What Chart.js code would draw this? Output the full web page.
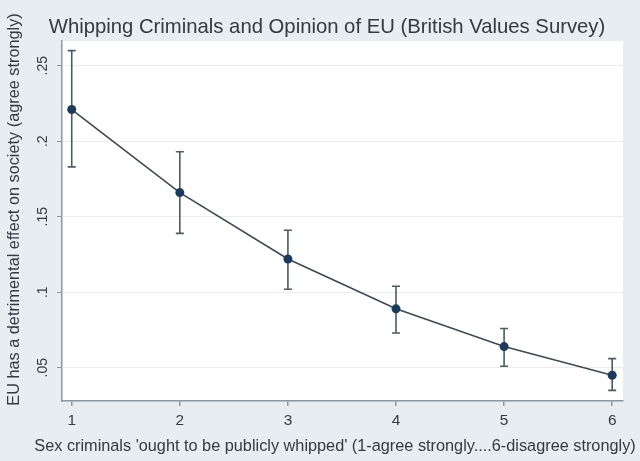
<!DOCTYPE html>
<html>
<head>
<meta charset="utf-8">
<script src="https://cdn.jsdelivr.net/npm/chart.js@4.4.0/dist/chart.umd.min.js"></script>
<style>
  html, body { margin: 0; padding: 0; background: #e7edf1; }
  #wrap { width: 640px; height: 461px; }
</style>
</head>
<body>
<div id="wrap"><canvas id="c" width="640" height="461"></canvas></div>
<script>
// ---- data ----
const categories = [1, 2, 3, 4, 5, 6];
const meanValues = [0.221, 0.166, 0.122, 0.089, 0.064, 0.045];
const upperValues = [0.260, 0.193, 0.141, 0.104, 0.076, 0.056];
const lowerValues = [0.183, 0.139, 0.102, 0.073, 0.051, 0.035];
const yTickValues = [0.05, 0.10, 0.15, 0.20, 0.25];
const yTickLabels = ['.05', '.1', '.15', '.2', '.25'];
const xTickValues = [1, 2, 3, 4, 5, 6];

const titleText = 'Whipping Criminals and Opinion of EU (British Values Survey)';
const xTitleText = "Sex criminals 'ought to be publicly whipped' (1-agree strongly....6-disagree strongly)";
const yTitleText = 'EU has a detrimental effect on society (agree strongly)';

const FONT = '"Liberation Sans", Arial, Helvetica, sans-serif';
const TEXT = '#333a40';
const AXIS = '#8c969d';

const decorPlugin = {
  id: 'decor',
  beforeDraw(chart) {
    const ctx = chart.ctx, a = chart.chartArea;
    ctx.save();
    ctx.fillStyle = '#e7edf1';
    ctx.fillRect(0, 0, chart.width, chart.height);
    ctx.fillStyle = '#ffffff';
    ctx.fillRect(a.left, a.top, a.right - a.left, a.bottom - a.top);
    ctx.restore();
  },
  beforeDatasetsDraw(chart) {
    // error bars
    const ctx = chart.ctx, xs = chart.scales.x, ys = chart.scales.y;
    ctx.save();
    ctx.strokeStyle = '#4e5a64';
    ctx.lineWidth = 1.6;
    categories.forEach((c, i) => {
      const x = xs.getPixelForValue(c);
      const yt = ys.getPixelForValue(upperValues[i]);
      const yb = ys.getPixelForValue(lowerValues[i]);
      ctx.beginPath();
      ctx.moveTo(x, yt); ctx.lineTo(x, yb);
      ctx.moveTo(x - 4, yt); ctx.lineTo(x + 4, yt);
      ctx.moveTo(x - 4, yb); ctx.lineTo(x + 4, yb);
      ctx.stroke();
    });
    ctx.restore();
  },
  afterDraw(chart) {
    const ctx = chart.ctx, ys = chart.scales.y;
    ctx.save();
    ctx.fillStyle = TEXT;
    ctx.textAlign = 'center';
    ctx.textBaseline = 'middle';
    // title
    ctx.font = '20.3px ' + FONT;
    ctx.fillText(titleText, 327, 27);
    // x title
    ctx.font = '16.3px ' + FONT;
    ctx.fillText(xTitleText, 335, 447);
    // y title
    ctx.save();
    ctx.translate(15, 209.5);
    ctx.rotate(-Math.PI / 2);
    ctx.fillText(yTitleText, 0, 0);
    ctx.restore();
    // y tick labels (rotated)
    ctx.font = '14px ' + FONT;
    yTickValues.forEach((v, i) => {
      const y = ys.getPixelForValue(v);
      ctx.save();
      ctx.translate(43, y);
      ctx.rotate(-Math.PI / 2);
      ctx.fillText(yTickLabels[i], 0, 0);
      ctx.restore();
    });
    ctx.restore();
  }
};

new Chart(document.getElementById('c'), {
  type: 'scatter',
  data: {
    datasets: [{
      data: categories.map((c, i) => ({ x: c, y: meanValues[i] })),
      showLine: true,
      borderColor: '#3d4a54',
      borderWidth: 1.6,
      backgroundColor: '#1c3a5a',
      pointBackgroundColor: '#1c3a5a',
      pointBorderColor: '#1c3a5a',
      pointRadius: 4.5,
      pointBorderWidth: 0,
      tension: 0
    }]
  },
  options: {
    responsive: false,
    animation: false,
    layout: { padding: { top: 41, right: 17, left: 0, bottom: 0 } },
    plugins: { legend: { display: false }, tooltip: { enabled: false }, title: { display: false } },
    scales: {
      x: {
        type: 'linear',
        min: 0.91, max: 6.10,
        afterBuildTicks: s => { s.ticks = xTickValues.map(v => ({ value: v })); },
        afterFit: s => { s.height = 60; },
        border: { display: true, color: AXIS, width: 1.5 },
        grid: { drawOnChartArea: false, drawTicks: true, tickLength: 5, tickColor: AXIS, lineWidth: 1.5 },
        ticks: { color: TEXT, font: { family: FONT, size: 15.4 }, padding: 6, maxRotation: 0, autoSkip: false,
                 callback: v => String(v) }
      },
      y: {
        type: 'linear',
        min: 0.02795, max: 0.2664,
        afterBuildTicks: s => { s.ticks = yTickValues.map(v => ({ value: v })); },
        afterFit: s => { s.width = 62; },
        border: { display: true, color: AXIS, width: 1.5 },
        grid: { drawOnChartArea: true, color: '#ececec', lineWidth: 1, drawTicks: true, tickLength: 5, tickColor: AXIS },
        ticks: { display: false }
      }
    }
  },
  plugins: [decorPlugin]
});
</script>
</body>
</html>
